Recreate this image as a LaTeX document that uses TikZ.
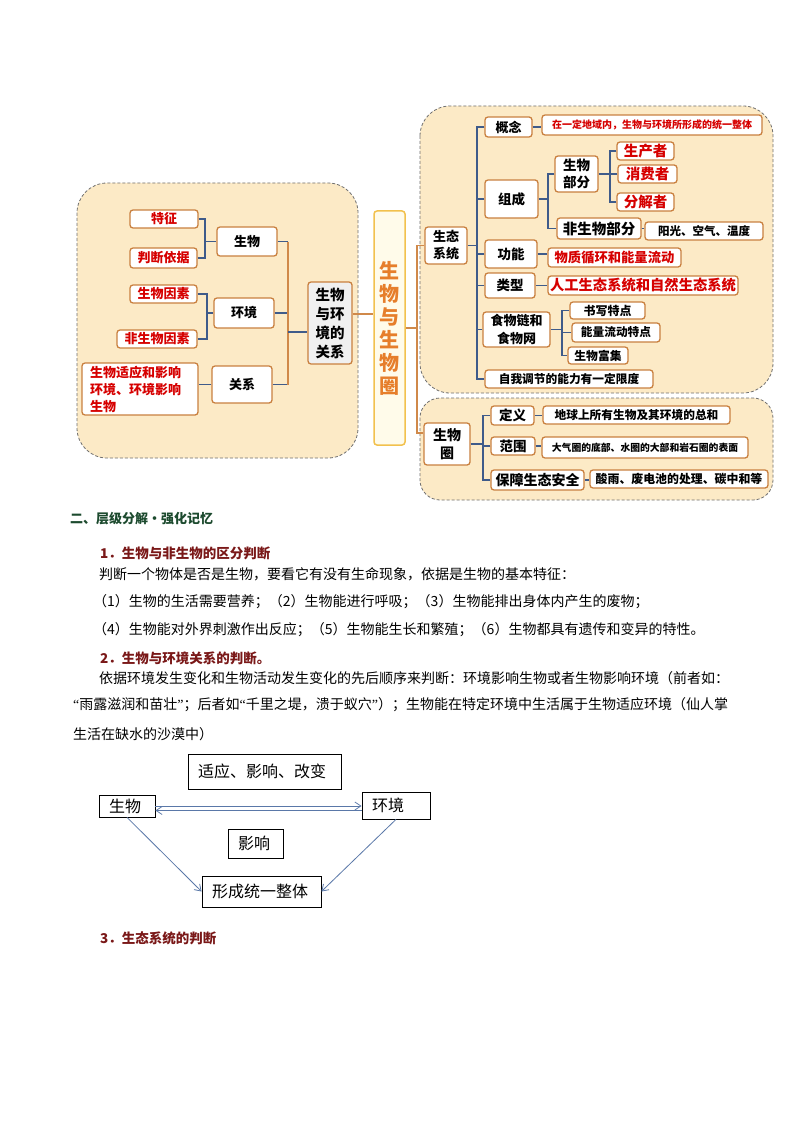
\documentclass[tikz,border=0pt]{standalone}
\usepackage{fontspec}
\setmainfont{Noto Sans CJK SC}
\newfontfamily\qfont{Liberation Serif}
\usepackage{tikz}
\usetikzlibrary{arrows.meta}
\newcommand\fsz[2]{\fontsize{#1}{#2}\selectfont}
\definecolor{panelfill}{HTML}{FCEAC6}
\definecolor{panelline}{HTML}{707070}
\definecolor{boxline}{HTML}{C9803F}
\definecolor{linkblue}{HTML}{3F5B8A}
\definecolor{linkorange}{HTML}{D0894A}
\definecolor{titleline}{HTML}{F2C14E}
\definecolor{titlefill}{HTML}{FFFBEA}
\definecolor{titletext}{HTML}{E67E2B}
\definecolor{relfill}{HTML}{F0F0F0}
\definecolor{redtext}{HTML}{D60000}
\definecolor{headgreen}{HTML}{1C4A2E}
\definecolor{headred}{HTML}{7A1818}
\definecolor{arrowblue}{HTML}{5A78A8}

\begin{document}
\begin{tikzpicture}[x=1pt,y=-1pt,
	panel/.style={draw=panelline, dash pattern=on 3pt off 2pt, line width=0.8pt, fill=panelfill, rounded corners=30pt},
	sz/.style 2 args={minimum width=#1pt, minimum height=#2pt},
	mbox/.style={draw=boxline, line width=1.3pt, fill=white, rounded corners=3pt, inner sep=0pt, align=center, font=\bfseries\fsz{13}{17}},
	rbox/.style={mbox, text=redtext},
	blink/.style={draw=linkblue, line width=1.3pt},
	olink/.style={draw=linkorange, line width=1.3pt},
	txt/.style={anchor=west, inner sep=0pt, font=\fsz{14}{16}},
	headline/.style={anchor=west, inner sep=0pt, font=\bfseries\fsz{13.5}{16}, text=headred},
	dbox/.style={draw=black, line width=0.8pt, inner xsep=10pt, inner ysep=0pt, align=left, font=\fsz{16}{18}},
	darr/.style={draw=arrowblue, line width=0.8pt, -{Straight Barb[length=6pt,width=8pt]}}]
			\fill[white] (0,0) rectangle (794,1123);
			\useasboundingbox (0,0) rectangle (794,1123);
			% left part
			\draw[panel] (77,183) rectangle (358,458);
			\node[rbox, sz={68}{18}] (tz) at (164,219) {特征};
			\node[rbox, sz={67}{20}] (pdyj) at (163.5,258) {判断依据};
			\node[mbox, sz={60}{29}] (sw) at (247,241.5) {生物};
			\node[rbox, sz={67}{18}] (swys) at (163.5,294) {生物因素};
			\node[mbox, sz={60}{30}] (hj) at (244,313) {环境};
			\node[rbox, sz={80}{18}] (fswys) at (157,339) {非生物因素};
			\node[rbox, sz={116}{52}, text width=100pt, align=left] (syyx) at (140,389) {生物适应和影响\\环境、环境影响\\生物};
			\node[mbox, sz={60}{37}] (gx) at (242,384.5) {关系};
			\node[mbox, sz={44}{82}, fill=relfill, font=\bfseries\fsz{14.5}{19}] (swhj) at (330,323) {生物\\与环\\境的\\关系};
			\node[sz={31}{234}, draw=titleline, line width=1.5pt, fill=titlefill, rounded corners=3pt, inner sep=0pt, align=center, text=titletext, font=\bfseries\fsz{20}{23}] (title) at (389.5,328) {生\\物\\与\\生\\物\\圈};
			\coordinate (j1) at (205,241.5);
			\draw[blink] (tz.east) -| (j1) (pdyj.east) -| (j1) (j1) -- (sw.west);
			\coordinate (j2) at (207,313);
			\draw[blink] (swys.east) -| (j2) (fswys.east) -| (j2) (j2) -- (hj.west);
			\draw[blink] (gx.west) -- (gx.west -| syyx.east);
			\coordinate (j3) at (288,332);
			\draw[blink] (sw.east) -- (sw.east -| j3) (hj.east) -- (hj.east -| j3) (gx.east) -- (gx.east -| j3);
			\draw[olink] (sw.east -| j3) -- (gx.east -| j3);
			\draw[blink] (j3) -- (j3 -| swhj.west);
			\draw[olink] ([yshift=9pt]swhj.east) -- ([yshift=9pt]swhj.east -| title.west);
			% ecosystem
			\draw[panel] (420,106) rectangle (773,393);
			\node[mbox, sz={42}{37}] (st) at (446,245.5) {生态\\系统};
			\node[mbox, sz={47}{20}] (gn) at (508.5,127) {概念};
			\node[rbox, sz={220}{20}, font=\bfseries\fsz{10}{12}] (gnt) at (652,125) {在一定地域内，生物与环境所形成的统一整体};
			\node[mbox, sz={53}{38}, font=\bfseries\fsz{13.5}{17}] (zc) at (511.5,199) {组成};
			\node[mbox, sz={43}{36}, font=\bfseries\fsz{13.5}{17}] (swbf) at (576.5,174) {生物\\部分};
			\node[rbox, sz={57}{18}, font=\bfseries\fsz{14.5}{17}] (scz) at (645.5,151) {生产者};
			\node[rbox, sz={59}{18}, font=\bfseries\fsz{14.5}{17}] (xfz) at (647.5,174) {消费者};
			\node[rbox, sz={57}{18}, font=\bfseries\fsz{14.5}{17}] (fjz) at (645.5,202) {分解者};
			\node[mbox, sz={84}{21}, font=\bfseries\fsz{14.5}{17}] (fswbf) at (599,228.5) {非生物部分};
			\node[mbox, sz={118}{18}, font=\bfseries\fsz{11.5}{14}] (yg) at (704,231) {阳光、空气、温度};
			\node[mbox, sz={52}{28}, font=\bfseries\fsz{13.5}{17}] (gneng) at (511,254) {功能};
			\node[rbox, sz={133}{19}, font=\bfseries\fsz{13.3}{16}] (wz) at (614.5,257.5) {物质循环和能量流动};
			\node[mbox, sz={50}{25}, font=\bfseries\fsz{13.5}{17}] (lx) at (510,285.5) {类型};
			\node[rbox, sz={190}{19}, font=\bfseries\fsz{14.3}{17}] (rg) at (643,285.5) {人工生态系统和自然生态系统};
			\node[mbox, sz={67}{35}, font=\bfseries\fsz{13}{18}] (swl) at (516.5,329.5) {食物链和\\食物网};
			\node[mbox, sz={75}{17}, font=\bfseries\fsz{12}{14}] (sx) at (607.5,310.5) {书写特点};
			\node[mbox, sz={88}{19}, font=\bfseries\fsz{11.7}{14}] (nl) at (616,332.5) {能量流动特点};
			\node[mbox, sz={60}{17}, font=\bfseries\fsz{11.8}{14}] (fj) at (598,355.5) {生物富集};
			\node[mbox, sz={168}{18}, font=\bfseries\fsz{11.7}{14}] (zw) at (569,379) {自我调节的能力有一定限度};
			\coordinate (k0) at (477,245.5);
			\draw[blink] (st.east) -- (k0);
			\draw[blink] (gn.west) -| (k0) (zc.west) -| (k0) (gneng.west) -| (k0);
			\draw[blink] (lx.west) -| (k0) (swl.west) -| (k0) (zw.west) -| (k0);
			\draw[blink] (gn.east) -- (gn.east -| gnt.west);
			\coordinate (k1) at (548,199);
			\draw[blink] (zc.east) -- (k1) (swbf.west) -| (k1) (fswbf.west) -| (k1);
			\coordinate (k2) at (610,174);
			\draw[blink] (swbf.east) -- (k2) (scz.west) -| (k2) (xfz.west) -| (k2) (fjz.west) -| (k2);
			\draw[blink] (fswbf.east) -- (fswbf.east -| yg.west);
			\draw[blink] (gneng.east) -- (gneng.east -| wz.west);
			\draw[blink] (lx.east) -- (lx.east -| rg.west);
			\coordinate (k3) at (562,329.5);
			\draw[blink] (swl.east) -- (k3) (sx.west) -| (k3) (nl.west) -| (k3) (fj.west) -| (k3);
			% biosphere
			\draw[panel, rounded corners=20pt] (420,398) rectangle (773,500);
			\node[mbox, sz={46}{42}, font=\bfseries\fsz{14}{18}] (swq) at (447,444) {生物\\圈};
			\node[mbox, sz={43}{19}, font=\bfseries\fsz{13.5}{16}] (dy) at (512.5,415.5) {定义};
			\node[mbox, sz={187}{18}, font=\bfseries\fsz{11.7}{14}] (dyt) at (636.5,415) {地球上所有生物及其环境的总和};
			\node[mbox, sz={44}{18}, font=\bfseries\fsz{13.5}{16}] (fw) at (513,446) {范围};
			\node[mbox, sz={206}{21}, font=\bfseries\fsz{9.8}{12}] (fwt) at (645,447.5) {大气圈的底部、水圈的大部和岩石圈的表面};
			\node[mbox, sz={93}{20}, font=\bfseries\fsz{14}{16}] (bz) at (537.5,480) {保障生态安全};
			\node[mbox, sz={178}{18}, font=\bfseries\fsz{11.9}{14}] (bzt) at (679,479) {酸雨、废电池的处理、碳中和等};
			\coordinate (k4) at (483,444);
			\draw[blink] (swq.east) -- (k4) (dy.west) -| (k4) (fw.west) -| (k4) (bz.west) -| (k4);
			\draw[blink] (dy.east) -- (dy.east -| dyt.west);
			\draw[blink] (fw.east) -- (fw.east -| fwt.west);
			\draw[blink] (bz.east) -- (bz.east -| bzt.west);
			\coordinate (j0) at (417,328);
			\draw[olink] (title.east) -- (j0) (st.west) -| (j0) ([yshift=11pt]swq.west) -| (j0);
			% text
			\node[anchor=west, inner sep=0pt, font=\bfseries\fsz{13}{16}, text=headgreen] (h2) at (70,519) {二、层级分解•强化记忆};
			\node[headline] (h21) at (100,553) {1．生物与非生物的区分判断};
			\node[txt] (p1) at (99,574) {判断一个物体是否是生物，要看它有没有生命现象，依据是生物的基本特征：};
			\node[txt] (p2) at (93,602) {（1）生物的生活需要营养；（2）生物能进行呼吸；（3）生物能排出身体内产生的废物；};
			\node[txt] (p3) at (93,630) {（4）生物能对外界刺激作出反应；（5）生物能生长和繁殖；（6）生物都具有遗传和变异的特性。};
			\node[headline] (h22) at (100,658) {2．生物与环境关系的判断。};
			\node[txt] (p4) at (99,678) {依据环境发生变化和生物活动发生变化的先后顺序来判断：环境影响生物或者生物影响环境（前者如：};
			\node[txt] (p5) at (73,705) {{\qfont “}雨露滋润和苗壮{\qfont ”}；后者如{\qfont “}千里之堤，溃于蚁穴{\qfont ”}）；生物能在特定环境中生活属于生物适应环境（仙人掌};
			\node[txt] (p6) at (73,734) {生活在缺水的沙漠中）};
			% relation sketch
			\node[dbox, text width=133pt, minimum height=35pt] (syyb) at (264.5,771.5) {适应、影响、改变};
			\node[dbox, text width=36pt, minimum height=22pt] (bsw) at (127,806) {生物};
			\node[dbox, text width=48pt, minimum height=27pt] (bhj) at (396,805.5) {环境};
			\node[dbox, text width=35pt, minimum height=29pt] (byx) at (255.5,843.5) {影响};
			\node[dbox, text width=99pt, minimum height=31pt] (bxc) at (261.5,891.5) {形成统一整体};
			\draw[darr] (bsw.east) -- (bsw.east -| bhj.west);
			\draw[darr] ([yshift=-5pt]bhj.west) -- ([yshift=-5pt]bhj.west -| bsw.east);
			\draw[darr] (bsw.south) -- (bxc.west);
			\draw[darr] (bhj.south) -- (bxc.east);
			\node[headline] (h23) at (100,938) {3．生态系统的判断};
	\end{tikzpicture}
\end{document}
